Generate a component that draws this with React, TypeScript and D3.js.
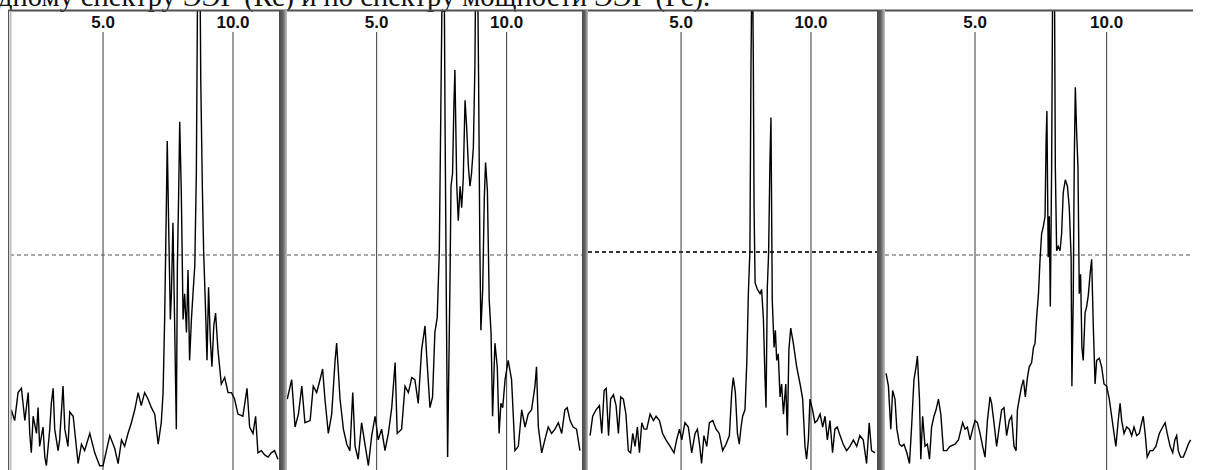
import React from "react";
import * as d3 from "d3";

// Caption fragment visible above the figure (cropped scan)
const CAPTION = "дному спектру ЭЭГ (Кс) и по спектру мощности ЭЭГ (Рс).";

// Frequency grid marks (Hz) and their labels
const TICK_FREQS = [5, 10];
const TICK_LABELS = ["5.0", "10.0"];

// Threshold level (dashed line), in relative power units
const THRESHOLD = 100;

// Spectra: [frequency Hz, relative power]
const SPECTRUM_1: [number, number][] = [
  [1.41,17],[1.47,28],[1.60,23],[1.73,36],[1.86,38],[1.99,23],[2.12,36],[2.18,17],[2.24,8],[2.31,25],
  [2.44,17],[2.50,29],[2.56,11],[2.69,20],[2.76,6],[2.82,2],[2.95,19],[3.01,31],[3.08,38],[3.14,19],
  [3.27,9],[3.33,14],[3.46,39],[3.53,19],[3.65,11],[3.72,27],[3.85,25],[4.04,3],[4.17,12],[4.29,9],
  [4.49,17],[4.68,8],[4.87,2],[5.00,2],[5.13,9],[5.26,16],[5.45,10],[5.58,3],[5.71,14],[5.83,11],
  [5.96,17],[6.09,22],[6.22,28],[6.35,36],[6.47,30],[6.60,36],[6.73,33],[6.86,29],[6.99,26],[7.12,12],
  [7.24,22],[7.31,36],[7.37,70],[7.44,126],[7.47,153],[7.53,110],[7.59,70],[7.63,82],[7.69,115],[7.76,64],
  [7.82,19],[7.86,95],[7.91,129],[7.95,162],[8.01,130],[8.08,70],[8.14,82],[8.21,64],[8.27,93],[8.33,51],
  [8.40,70],[8.46,82],[8.53,95],[8.59,138],[8.65,250],[8.72,250],[8.76,181],[8.82,132],[8.87,102],[8.94,76],
  [9.00,51],[9.06,85],[9.13,60],[9.19,48],[9.26,67],[9.33,73],[9.42,56],[9.55,40],[9.68,43],[9.81,36],
  [9.94,36],[10.06,33],[10.19,26],[10.38,25],[10.54,38],[10.64,20],[10.77,17],[10.87,25],[10.96,8],[11.09,9],
  [11.22,7],[11.35,6],[11.47,8],[11.60,9],[11.73,5],
];

const SPECTRUM_2: [number, number][] = [
  [1.56,33],[1.73,42],[1.86,20],[1.99,26],[2.12,39],[2.24,22],[2.44,23],[2.56,39],[2.69,36],[2.82,42],
  [2.92,47],[3.01,33],[3.14,17],[3.27,26],[3.40,51],[3.46,59],[3.59,33],[3.72,19],[3.85,12],[3.97,9],
  [4.08,36],[4.17,11],[4.29,5],[4.42,22],[4.55,12],[4.68,2],[4.81,16],[4.94,25],[5.06,14],[5.19,19],
  [5.32,9],[5.45,17],[5.58,29],[5.71,50],[5.79,17],[5.96,19],[6.09,39],[6.22,36],[6.35,43],[6.47,42],
  [6.60,31],[6.73,56],[6.86,67],[6.92,54],[7.05,29],[7.15,34],[7.24,64],[7.33,71],[7.41,102],[7.47,169],
  [7.54,250],[7.59,250],[7.63,163],[7.69,64],[7.73,6],[7.82,87],[7.86,132],[7.92,138],[7.97,169],[8.01,186],
  [8.08,133],[8.14,116],[8.21,132],[8.27,122],[8.33,135],[8.40,172],[8.46,160],[8.53,141],[8.59,132],[8.65,138],
  [8.72,150],[8.78,188],[8.82,250],[8.87,250],[8.92,184],[8.97,104],[9.01,65],[9.08,84],[9.14,126],[9.19,143],
  [9.26,130],[9.33,79],[9.40,64],[9.46,25],[9.55,59],[9.64,48],[9.71,17],[9.78,31],[9.85,29],[9.94,42],
  [10.06,51],[10.19,42],[10.32,9],[10.45,11],[10.58,28],[10.71,20],[10.83,26],[10.96,28],[11.09,39],[11.15,48],
  [11.22,20],[11.35,8],[11.47,14],[11.60,20],[11.73,17],[11.86,19],[11.99,22],[12.12,17],[12.24,28],[12.33,29],
  [12.44,23],[12.56,20],[12.69,19],[12.82,9],
];

const SPECTRUM_3: [number, number][] = [
  [1.50,16],[1.60,25],[1.73,28],[1.86,30],[1.95,17],[2.04,37],[2.12,38],[2.21,16],[2.29,33],[2.40,35],
  [2.50,30],[2.59,17],[2.68,34],[2.78,33],[2.88,26],[2.97,9],[3.06,8],[3.14,17],[3.23,11],[3.32,20],
  [3.40,8],[3.49,22],[3.58,19],[3.68,19],[3.81,26],[3.94,23],[4.04,25],[4.17,23],[4.29,17],[4.42,14],
  [4.58,11],[4.73,8],[4.83,14],[4.94,19],[5.03,14],[5.15,22],[5.28,20],[5.41,8],[5.54,17],[5.63,19],
  [5.71,12],[5.79,3],[5.88,16],[5.99,11],[6.09,22],[6.22,23],[6.35,19],[6.47,17],[6.60,9],[6.73,12],
  [6.86,16],[6.95,36],[7.01,43],[7.09,36],[7.17,17],[7.24,12],[7.31,20],[7.37,25],[7.46,28],[7.53,50],
  [7.59,82],[7.65,102],[7.69,186],[7.74,250],[7.78,193],[7.81,122],[7.85,87],[7.94,84],[8.04,82],[8.10,84],
  [8.17,70],[8.23,43],[8.27,29],[8.32,85],[8.37,101],[8.42,143],[8.46,164],[8.51,79],[8.58,57],[8.63,65],
  [8.68,51],[8.74,54],[8.81,34],[8.87,40],[8.94,26],[9.03,40],[9.09,16],[9.15,56],[9.22,66],[9.32,59],
  [9.45,48],[9.58,40],[9.68,33],[9.77,11],[9.83,5],[9.90,14],[9.96,33],[10.06,28],[10.15,22],[10.24,23],
  [10.35,26],[10.45,20],[10.54,25],[10.63,14],[10.73,23],[10.83,8],[10.92,19],[11.01,20],[11.12,16],[11.24,12],
  [11.37,9],[11.50,11],[11.63,14],[11.76,11],[11.88,16],[12.01,14],[12.14,3],[12.24,22],[12.33,9],[12.46,8],
];

const SPECTRUM_4: [number, number][] = [
  [1.62,45],[1.71,39],[1.80,19],[1.87,37],[1.96,33],[2.03,19],[2.13,12],[2.22,11],[2.30,12],[2.41,8],
  [2.51,3],[2.59,20],[2.68,42],[2.76,48],[2.81,53],[2.89,33],[2.94,5],[3.01,25],[3.10,11],[3.19,12],
  [3.27,5],[3.35,20],[3.44,25],[3.52,28],[3.61,33],[3.70,26],[3.80,9],[3.92,9],[4.05,11],[4.24,12],
  [4.37,14],[4.43,17],[4.53,22],[4.62,19],[4.71,20],[4.81,14],[4.91,19],[5.00,23],[5.09,22],[5.19,17],
  [5.29,11],[5.38,6],[5.47,23],[5.57,34],[5.63,31],[5.72,22],[5.82,11],[5.92,20],[6.01,28],[6.10,29],
  [6.20,16],[6.30,23],[6.39,25],[6.48,11],[6.56,9],[6.61,28],[6.68,33],[6.77,39],[6.84,42],[6.91,34],
  [6.99,43],[7.06,48],[7.15,50],[7.22,57],[7.28,59],[7.34,71],[7.41,82],[7.47,98],[7.53,110],[7.59,113],
  [7.66,118],[7.70,153],[7.73,167],[7.78,99],[7.82,118],[7.86,76],[7.91,141],[7.96,250],[8.01,250],[8.05,141],
  [8.10,102],[8.16,104],[8.23,102],[8.29,110],[8.35,129],[8.43,135],[8.51,132],[8.58,122],[8.65,99],[8.68,39],
  [8.73,79],[8.77,144],[8.81,178],[8.86,157],[8.91,141],[8.96,82],[9.01,91],[9.06,57],[9.11,51],[9.18,73],
  [9.24,76],[9.30,81],[9.37,91],[9.43,98],[9.49,68],[9.56,40],[9.62,51],[9.72,52],[9.81,48],[9.90,40],
  [10.00,39],[10.10,33],[10.19,25],[10.28,17],[10.35,11],[10.44,23],[10.51,31],[10.57,23],[10.66,17],[10.76,20],
  [10.86,19],[10.95,16],[11.04,20],[11.14,16],[11.24,17],[11.33,22],[11.39,25],[11.47,16],[11.54,6],[11.65,9],
  [11.75,9],[11.87,11],[12.00,17],[12.13,20],[12.22,22],[12.30,17],[12.41,11],[12.51,8],[12.59,14],[12.66,16],
  [12.72,9],[12.81,6],[12.91,6],[13.01,9],[13.10,12],[13.19,14],
];

// Layout of the four scanned panels
const W = 1206;
const H = 470;
const TOP = 10;
const PANELS = [
  { id: "a", x0: 10, x1: 279, fMin: 1.42, fMax: 11.77, data: SPECTRUM_1, dashY: 0, heavy: false },
  { id: "b", x0: 287, x1: 582, fMin: 1.55, fMax: 12.9, data: SPECTRUM_2, dashY: 0, heavy: false },
  { id: "c", x0: 588, x1: 877, fMin: 1.42, fMax: 12.54, data: SPECTRUM_3, dashY: -3, heavy: true },
  { id: "d", x0: 885, x1: 1193, fMin: 1.58, fMax: 13.28, data: SPECTRUM_4, dashY: 0, heavy: false },
];
const SEPARATORS = [[279, 287], [582, 588], [877, 885]];

const yScale = d3.scaleLinear().domain([0, THRESHOLD]).range([H, 255]);

export default function App() {
  return (
    <svg
      width={W}
      height={H}
      viewBox={`0 0 ${W} ${H}`}
      style={{ position: "absolute", left: 0, top: 0, background: "#fefefe" }}
    >
      <defs>
        <linearGradient id="sep" x1="0" x2="1" y1="0" y2="0">
          <stop offset="0" stopColor="#4a4a4a" />
          <stop offset="0.45" stopColor="#5e5e5e" />
          <stop offset="0.7" stopColor="#8a8a8a" />
          <stop offset="1" stopColor="#c4c4c4" />
        </linearGradient>
        {PANELS.map((p) => (
          <clipPath id={`clip-${p.id}`} key={p.id}>
            <rect x={p.x0} y={TOP} width={p.x1 - p.x0} height={H - TOP} />
          </clipPath>
        ))}
      </defs>
      <rect x={0} y={0} width={W} height={H} fill="#fefefe" />

      <text
        x={-2}
        y={6}
        fontFamily="'Liberation Serif', 'Times New Roman', serif"
        fontSize={28.5}
        fill="#111"
      >
        {CAPTION}
      </text>

      {PANELS.map((p) => {
        const x = d3.scaleLinear().domain([p.fMin, p.fMax]).range([p.x0, p.x1]);
        const line = d3
          .line<[number, number]>()
          .x((d) => x(d[0]))
          .y((d) => yScale(d[1]));
        const dy = yScale(THRESHOLD) + p.dashY;
        return (
          <g key={p.id}>
            {TICK_FREQS.map((f, i) => (
              <g key={f}>
                <line x1={x(f)} x2={x(f)} y1={32} y2={H} stroke="#3a3a3a" strokeWidth={1} />
                <text
                  x={x(f)}
                  y={28}
                  textAnchor="middle"
                  fontFamily="'Liberation Sans', Arial, sans-serif"
                  fontWeight="bold"
                  fontSize={17}
                  fill="#111"
                >
                  {TICK_LABELS[i]}
                </text>
              </g>
            ))}
            <line
              x1={p.x0}
              x2={p.x1}
              y1={dy}
              y2={dy}
              stroke={p.heavy ? "#333" : "#555"}
              strokeWidth={p.heavy ? 2 : 1}
              strokeDasharray="4 3"
            />
            <g clipPath={`url(#clip-${p.id})`}>
              <path d={line(p.data) || ""} fill="none" stroke="#000" strokeWidth={1.4} strokeLinejoin="miter" />
            </g>
          </g>
        );
      })}

      {/* frame */}
      <line x1={8} x2={1193} y1={10.5} y2={10.5} stroke="#505050" strokeWidth={2} />
      <line x1={8.5} x2={8.5} y1={10} y2={H} stroke="#555" strokeWidth={1} />
      <rect x={9.5} y={11} width={2} height={H - 11} fill="#bdbdbd" />
      {SEPARATORS.map(([a, b]) => (
        <rect key={a} x={a} y={TOP} width={b - a} height={H - TOP} fill="url(#sep)" />
      ))}
    </svg>
  );
}
